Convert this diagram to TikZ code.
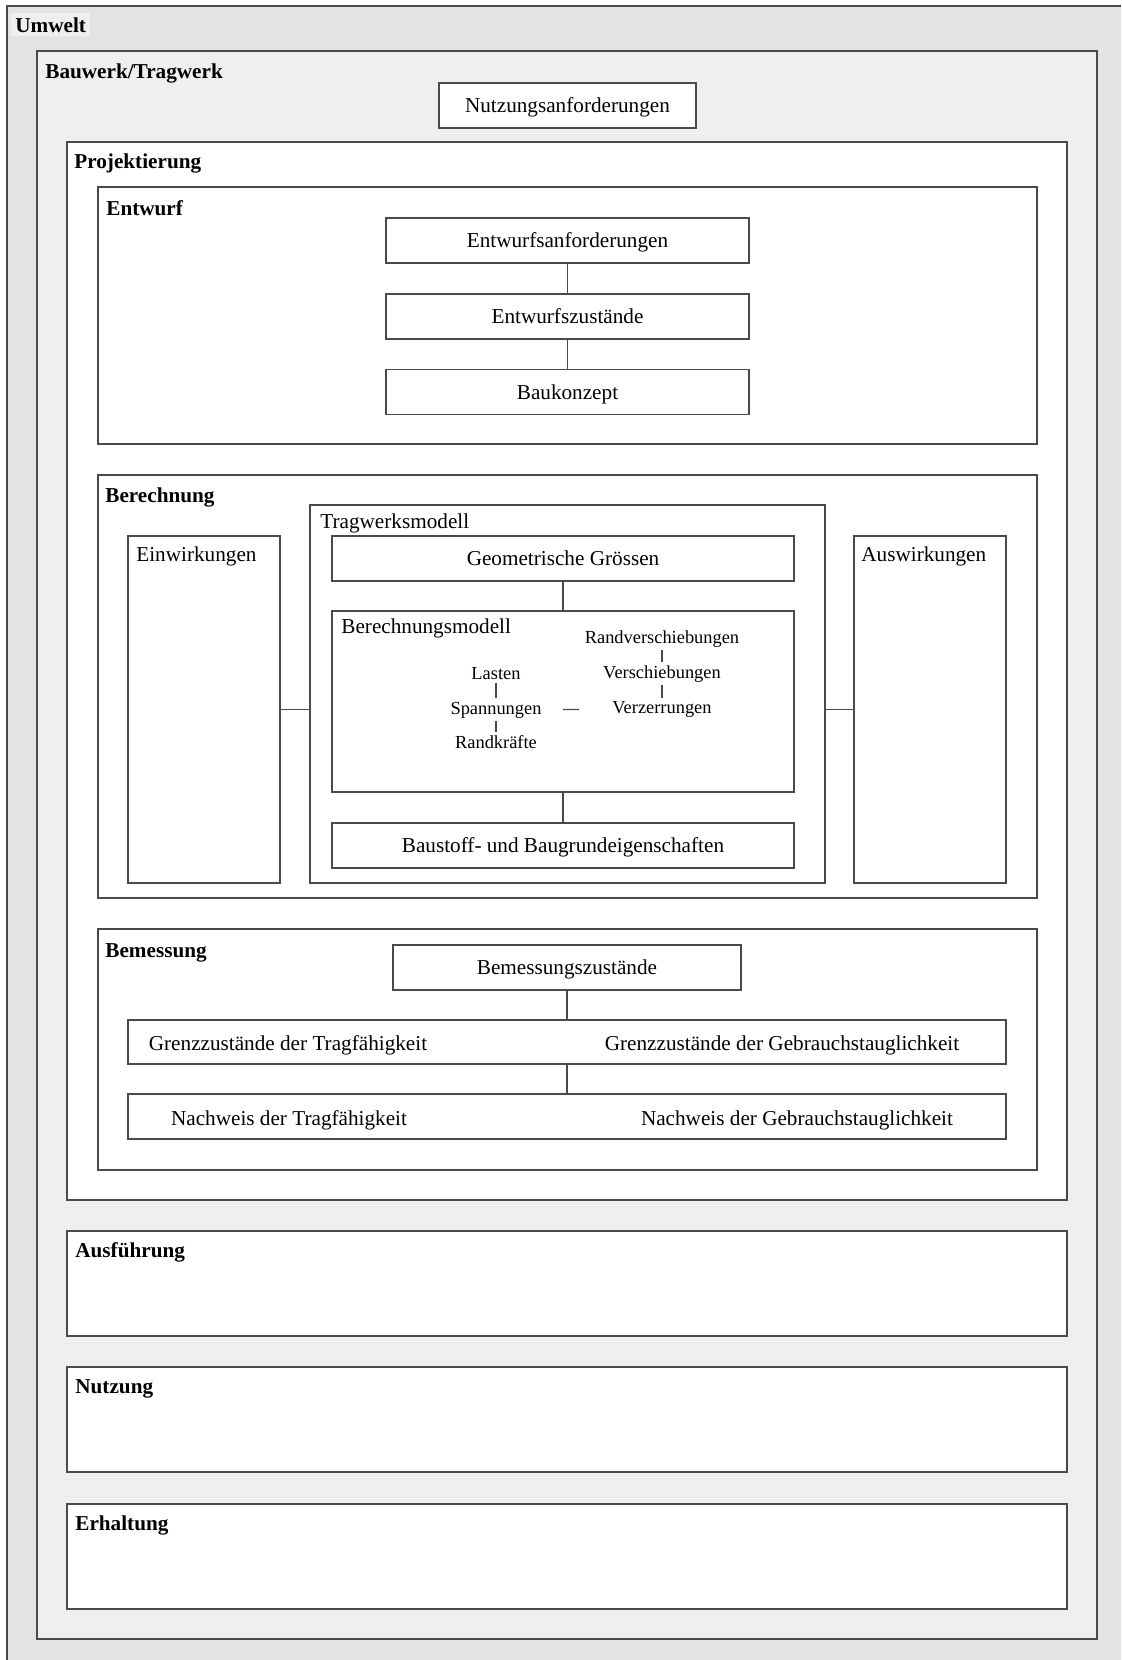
\documentclass[tikz,border=0pt]{standalone}
\usepackage{fontspec}
\setmainfont{Liberation Serif}
\usetikzlibrary{fit, calc}
\definecolor{umweltgray}{HTML}{E2E3E5}
\definecolor{bauwerkgray}{HTML}{EEF0EF}
\definecolor{framegray}{HTML}{4A4A4A}

\begin{document}
\begin{tikzpicture}[
    x=0.5pt, y=-0.5pt,
    every node/.style={font=\fontsize{10.6}{12.7}\selectfont},
    panel/.style={draw=framegray, line width=0.6pt, fill=#1, inner sep=0pt},
    panel/.default=white,
    txtbox/.style={draw=framegray, line width=0.6pt, fill=white, inner sep=0pt, minimum width=#1, minimum height=22.5pt, text height=7pt, text depth=0pt},
    heading/.style={anchor=base west, inner sep=0pt, font=\fontsize{10.6}{12.7}\selectfont\bfseries},
    boxlabel/.style={anchor=base west, inner sep=0pt},
    tinytext/.style={anchor=base, inner sep=1.5pt, font=\fontsize{9.2}{11}\selectfont},
    joint/.style={draw=framegray, line width=0.6pt}
]
\useasboundingbox (0,0) rectangle (1121,1660);

% Umwelt and Bauwerk
\fill[umweltgray] (7,6) rectangle (1121,1660);
\draw[framegray, line width=0.6pt] (7,1660) |- (1121,6);
\node[heading, fill=bauwerkgray, inner sep=2pt] (umweltlbl) at (11,32) {Umwelt};
\node[panel=bauwerkgray, fit={(37,51) (1097,1639)}] (bauwerk) {};
\node[heading] (bauwerklbl) at (45,78) {Bauwerk/Tragwerk};
\node[txtbox=128.5pt] (nutzanf) at (567.5,105.5) {Nutzungsanforderungen};

% Projektierung
\node[panel, fit={(67,142) (1067,1200)}] (projekt) {};
\node[heading] (projektlbl) at (74,168) {Projektierung};

% Entwurf
\node[panel, fit={(98,187) (1037,444)}] (entwurf) {};
\node[heading] (entwurflbl) at (106,215) {Entwurf};
\node[txtbox=181.5pt] (eanf) at (567.5,240.5) {Entwurfsanforderungen};
\node[txtbox=181.5pt] (ezust) at (567.5,316.5) {Entwurfszustände};
\node[txtbox=181.5pt] (baukon) at (567.5,392) {Baukonzept};

\draw[joint] (eanf) -- (ezust);
\draw[joint] (ezust) -- (baukon);

% Berechnung
\node[panel, fit={(98,475) (1037,898)}] (berech) {};
\node[heading] (berechlbl) at (105,502) {Berechnung};
\node[panel, fit={(128,536) (280,883)}] (einw) {};
\node[boxlabel] (einwlbl) at (136,561) {Einwirkungen};
\node[panel, fit={(310,505) (825,883)}] (tragmod) {};
\node[boxlabel] (tragmodlbl) at (320,528) {Tragwerksmodell};
\node[panel, fit={(854,536) (1006,883)}] (auswirk) {};
\node[boxlabel] (auswirklbl) at (861,561) {Auswirkungen};

\node[txtbox=231pt] (geom) at (563,558.5) {Geometrische Grössen};
\node[panel, fit={(332,611) (794,792)}] (bmodell) {};
\node[boxlabel] (bmodelllbl) at (341,633) {Berechnungsmodell};
\node[txtbox=231pt] (baustoff) at (563,845.5) {Baustoff- und Baugrundeigenschaften};

\node[tinytext] (lasten) at (496,679) {Lasten};
\node[tinytext] (spann) at (496,714) {Spannungen};
\node[tinytext] (randkr) at (496,748) {Randkräfte};
\node[tinytext] (randv) at (662,643) {Randverschiebungen};
\node[tinytext] (versch) at (662,678) {Verschiebungen};
\node[tinytext] (verz) at (662,713) {Verzerrungen};

\draw[joint] (lasten) -- (spann);
\draw[joint] (spann) -- (randkr);
\draw[joint] (randv) -- (versch);
\draw[joint] (versch) -- (verz);
\draw[joint, shorten <=9pt, shorten >=15pt] (spann) -- (verz);

\draw[joint] (geom) -- (bmodell);
\draw[joint] (bmodell) -- (baustoff);
\draw[joint] (einw) -- (einw -| tragmod.west);
\draw[joint] (tragmod.east |- auswirk) -- (auswirk);

% Bemessung
\node[panel, fit={(98,929) (1037,1170)}] (bemess) {};
\node[heading] (bemesslbl) at (105,957) {Bemessung};
\node[txtbox=174pt] (bemz) at (567,967.5) {Bemessungszustände};
\node[panel, fit={(128,1020) (1006,1064)}] (grenz) {};
\node[anchor=base] (grenztrag) at (288,1050) {Grenzzustände der Tragfähigkeit};
\node[anchor=base] (grenzgebr) at (782,1050) {Grenzzustände der Gebrauchstauglichkeit};
\node[panel, fit={(128,1094) (1006,1139)}] (nachw) {};
\node[anchor=base] (nachwtrag) at (289,1125) {Nachweis der Tragfähigkeit};
\node[anchor=base] (nachwgebr) at (797,1125) {Nachweis der Gebrauchstauglichkeit};

\draw[joint] (bemz) -- (grenz);
\draw[joint] (grenz) -- (nachw);

% Ausfuehrung, Nutzung, Erhaltung
\node[panel, fit={(67,1231) (1067,1336)}] (ausf) {};
\node[heading] (ausflbl) at (75,1257) {Ausführung};
\node[panel, fit={(67,1367) (1067,1472)}] (nutz) {};
\node[heading] (nutzlbl) at (75,1393) {Nutzung};
\node[panel, fit={(67,1504) (1067,1609)}] (erhalt) {};
\node[heading] (erhaltlbl) at (75,1530) {Erhaltung};

\end{tikzpicture}
\end{document}
